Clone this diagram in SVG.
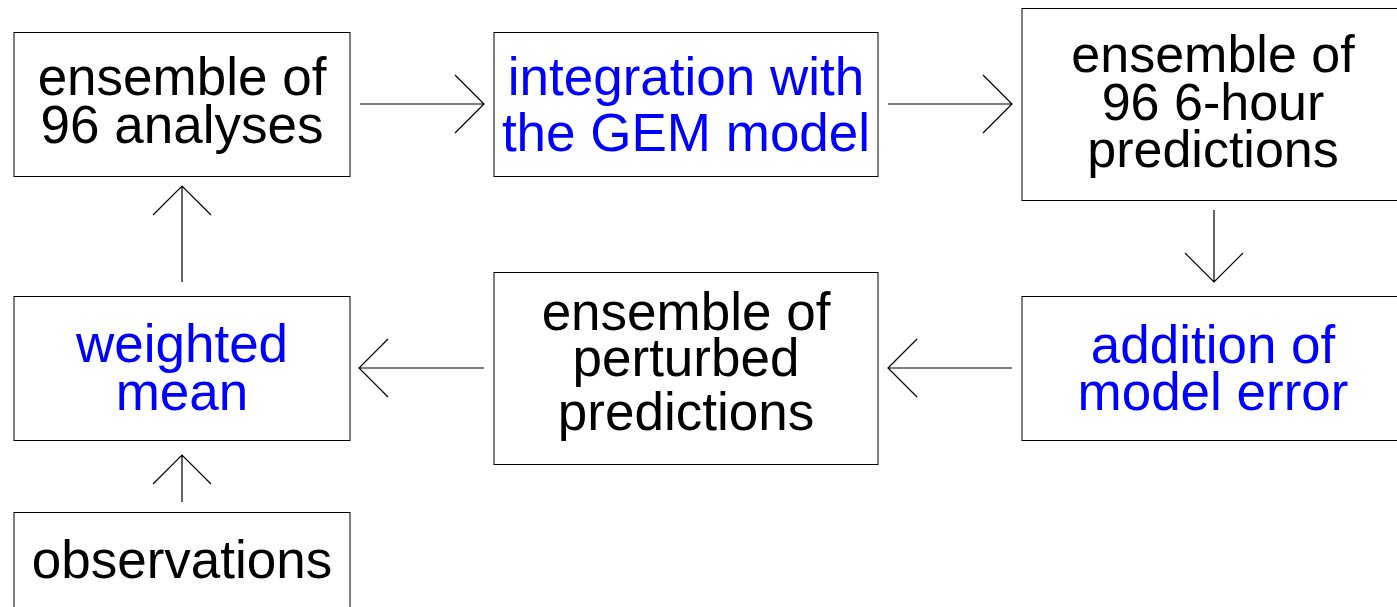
<svg xmlns="http://www.w3.org/2000/svg" width="1397" height="607" viewBox="0 0 1397 607">
  <style>
    .box { fill: #ffffff; stroke: #000000; stroke-width: 1; }
    .lbl { font-family: "Liberation Sans", Arial, sans-serif; font-size: 53px; text-anchor: middle; fill: #000000; }
    .blue { fill: #0000ff; }
    .conn { fill: none; stroke: #000000; stroke-width: 1.2; }
  </style>
  <rect x="0" y="0" width="1397" height="607" fill="#ffffff"/>

  <g id="analyses">
    <rect class="box" x="14" y="32.5" width="336" height="144"/>
    <text class="lbl" x="182" y="94.5">ensemble of</text>
    <text class="lbl" x="182" y="143">96 analyses</text>
  </g>

  <g id="integration">
    <rect class="box" x="494" y="32.5" width="384" height="144"/>
    <text class="lbl blue" x="686" y="95">integration with</text>
    <text class="lbl blue" x="686" y="151">the GEM model</text>
  </g>

  <g id="predictions">
    <rect class="box" x="1022" y="8.5" width="390" height="192"/>
    <text class="lbl" x="1213" y="71.5" style="font-size:52px">ensemble of</text>
    <text class="lbl" x="1213" y="120" style="font-size:52px">96 6-hour</text>
    <text class="lbl" x="1213" y="166.5" style="font-size:52px">predictions</text>
  </g>

  <g id="model-error">
    <rect class="box" x="1022" y="296.5" width="390" height="144"/>
    <text class="lbl blue" x="1213" y="363">addition of</text>
    <text class="lbl blue" x="1213" y="410">model error</text>
  </g>

  <g id="perturbed">
    <rect class="box" x="494" y="272.5" width="384" height="192"/>
    <text class="lbl" x="686" y="330">ensemble of</text>
    <text class="lbl" x="686" y="375.5">perturbed</text>
    <text class="lbl" x="686" y="430">predictions</text>
  </g>

  <g id="weighted-mean">
    <rect class="box" x="14" y="296.5" width="336" height="144"/>
    <text class="lbl blue" x="182" y="362">weighted</text>
    <text class="lbl blue" x="182" y="410">mean</text>
  </g>

  <g id="observations">
    <rect class="box" x="14" y="512.5" width="336" height="120"/>
    <text class="lbl" x="182" y="578">observations</text>
  </g>

  <g id="connectors">
    <!-- analyses -> integration -->
    <path class="conn" d="M360 104H484M455 75L484 104L455 133"/>
    <!-- integration -> predictions -->
    <path class="conn" d="M888 104H1012M983 75L1012 104L983 133"/>
    <!-- predictions -> model error -->
    <path class="conn" d="M1214 210V282M1185 253L1214 282L1243 253"/>
    <!-- model error -> perturbed -->
    <path class="conn" d="M1012 368H888M917 339L888 368L917 397"/>
    <!-- perturbed -> weighted mean -->
    <path class="conn" d="M484 368H359M388 339L359 368L388 397"/>
    <!-- weighted mean -> analyses -->
    <path class="conn" d="M182 282V186M153 215L182 186L211 215"/>
    <!-- observations -> weighted mean -->
    <path class="conn" d="M182 502V455M153 484L182 455L211 484"/>
  </g>
</svg>
